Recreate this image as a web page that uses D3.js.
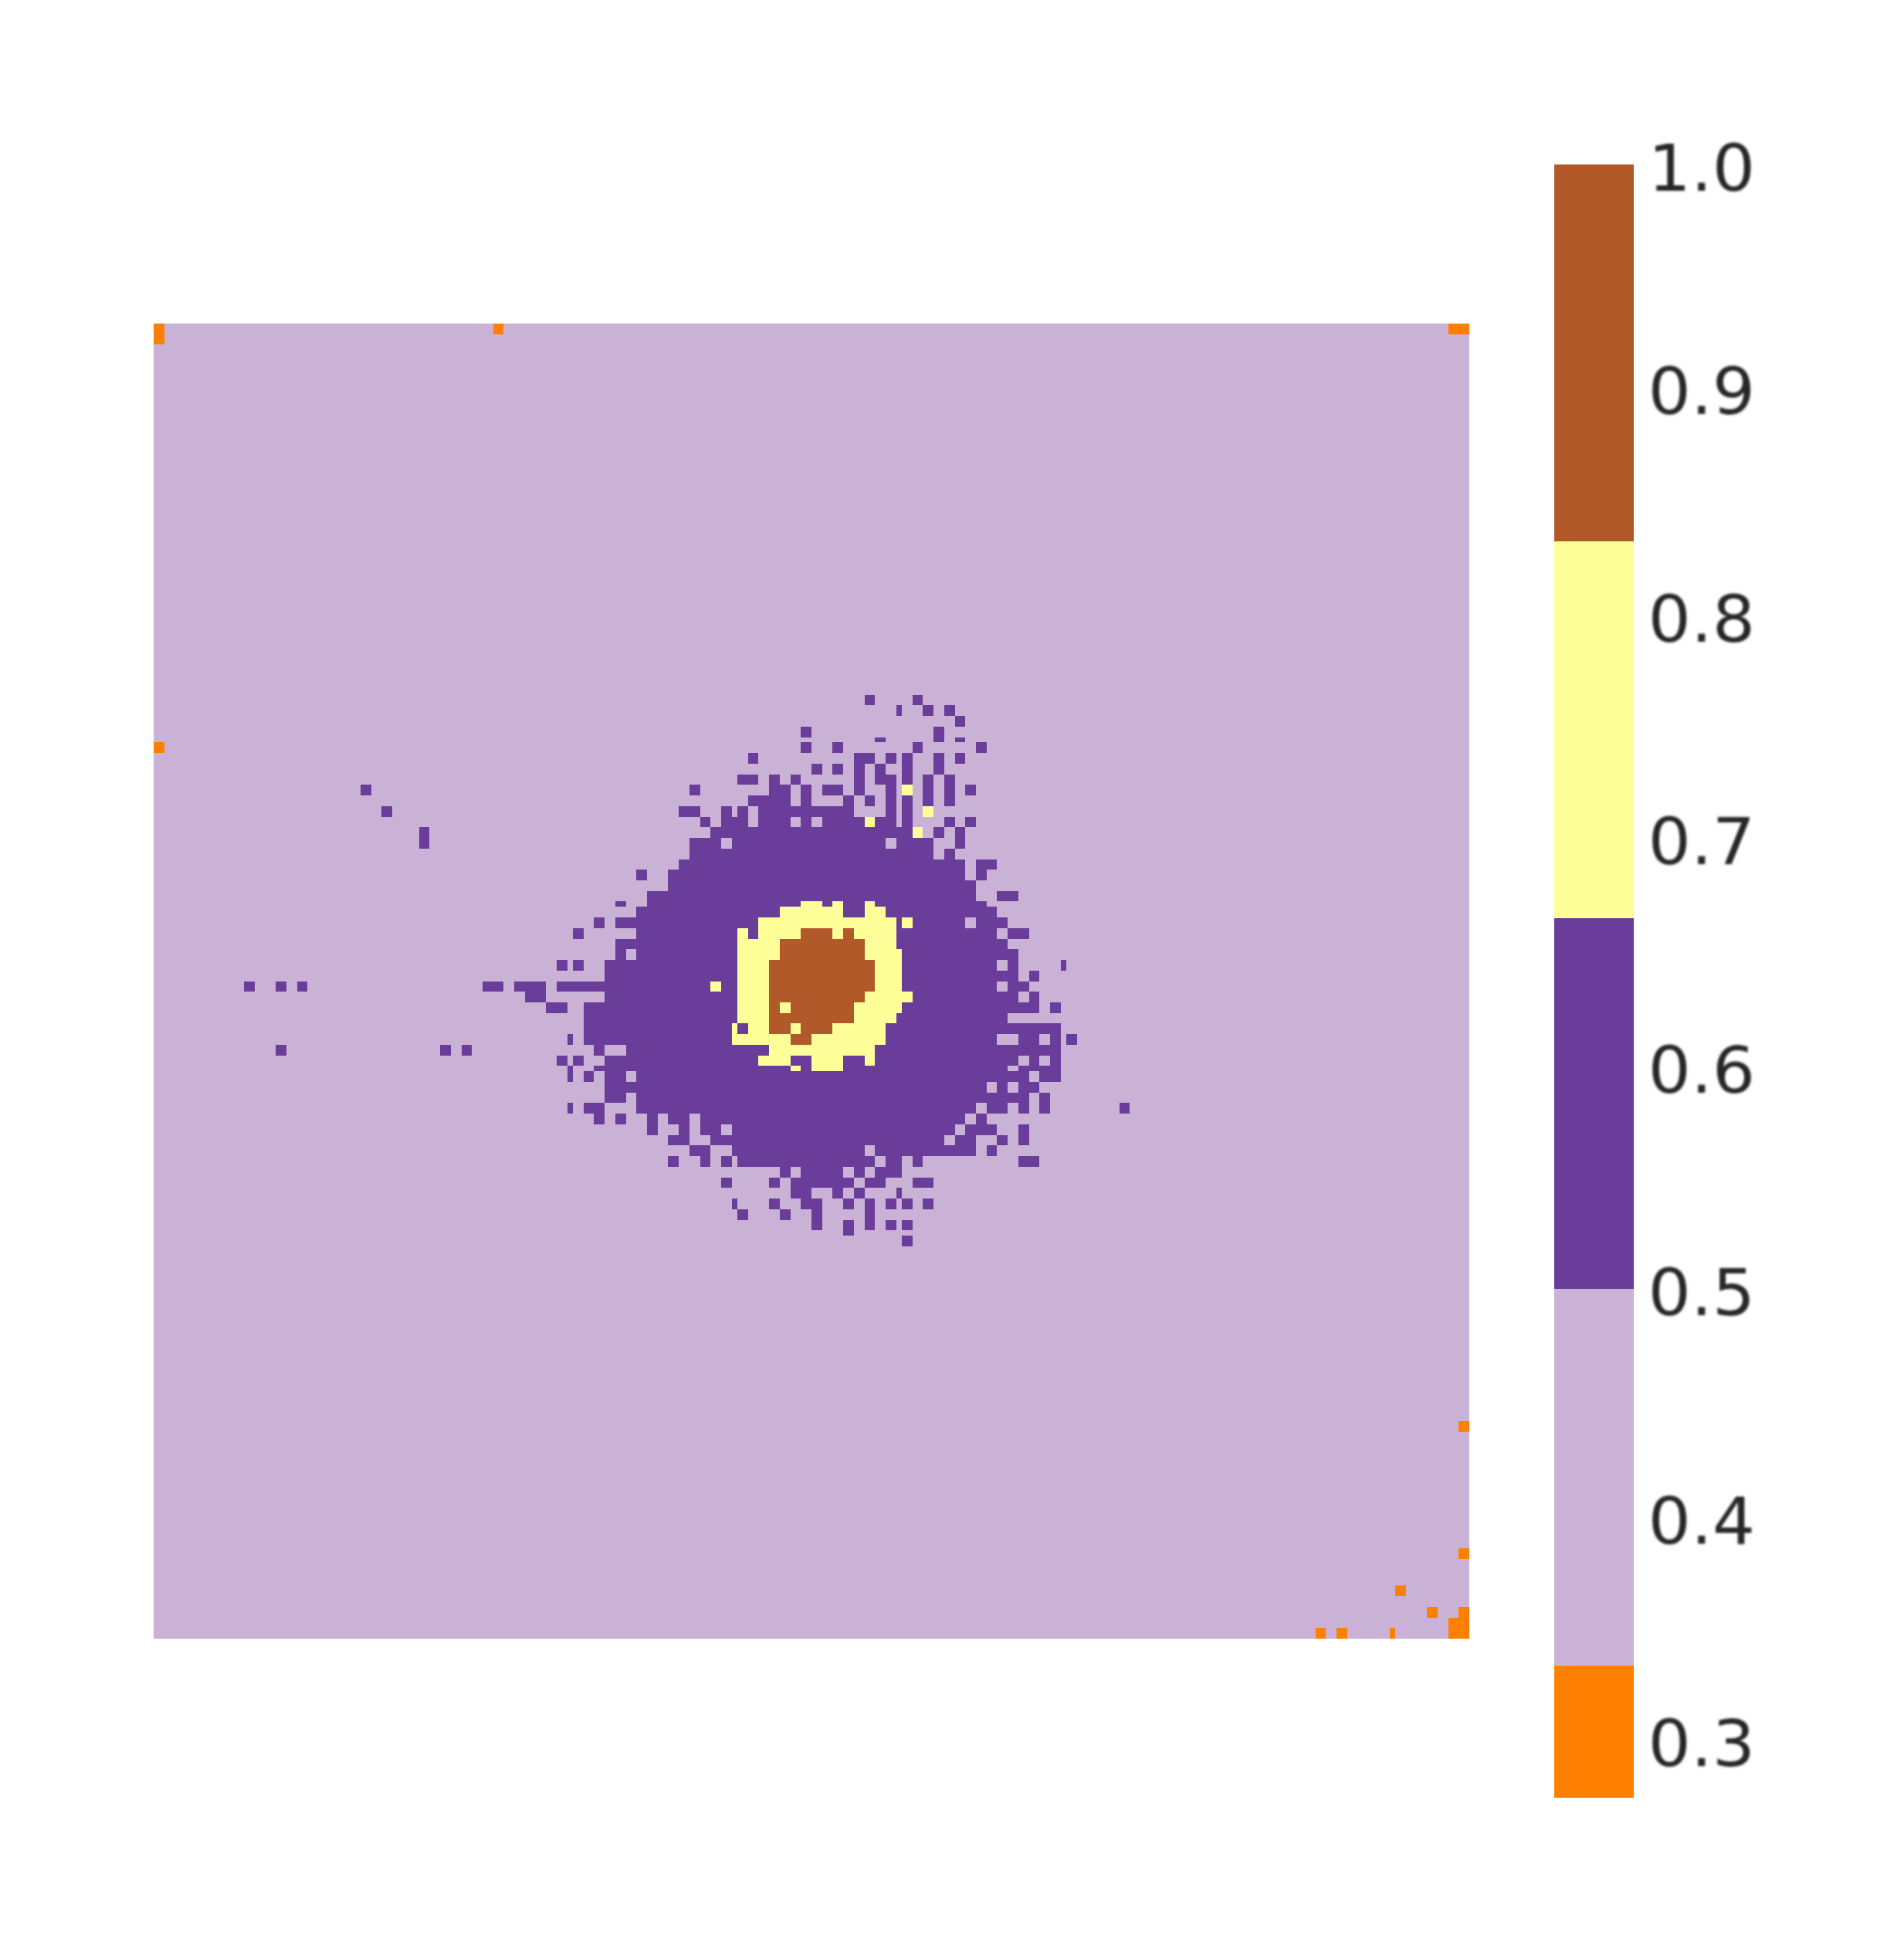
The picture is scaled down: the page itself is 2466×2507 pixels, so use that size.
<!DOCTYPE html>
<html><head><meta charset="utf-8">
<script src="https://cdnjs.cloudflare.com/ajax/libs/d3/7.8.5/d3.min.js"></script>
<style>html,body{margin:0;padding:0;background:#fff}svg{display:block}</style>
</head><body><svg id="c" width="2466" height="2507"></svg>
<script>
// Heatmap data: 128 x 128 cells. Default value is the pale level; rows list "row:columns".
const gridSize = 128;
const levelValues = {base: 0.42, dark: 0.58, yellow: 0.75, brown: 0.92, orange: 0.31};
const darkRows = [
"36:69,74","37:72,75,77","38:78","39:63,76","40:70,76,78","41:63,66,74,80",
"42:58,68-69,71,73,76,78","43:64,66,68,70,73,76","44:57-58,60,62,68,70-71,73,75,77",
"45:20,52,60-61,63,65-66,68,71,73,75,77,79","46:58-61,63,67,69,71,73,75,77",
"47:22,51-52,55,57,59-67,71,73,75","48:53,55-57,59-61,63,65-71,73,77,79",
"49:26,54-74,76,78","50:26,52-54,56-70,72-75,78","51:52-75,77","52:51-78,80-81",
"53:47,50-78,80","54:50-79","55:48-79,82-83","56:45,48-80","57:47-81",
"58:43,45-78,80-82","59:41,47-81,83-84","60:45-82","61:45,47-83",
"62:39,41,44-81,83,88","63:44-83,85","64:9,12,14,32-33,35-37,39-81,83-84",
"65:36-37,44-83,85","66:38-39,42-85,87","67:42-82","68:42-87",
"69:40,42-81,84-85,87,89","70:12,28,30,43,46-87","71:39,41,44-83,85,87",
"72:40,43-82,84-87","73:40,42,44-45,47-84,86-87","74:44-80,82,84-85",
"75:44-45,47-84,86","76:40,42-43,47-79,81-82,84,86,94","77:43,45,48,50-51,53-78,80",
"78:48,51,53-54,56-77,79-81,84","79:50-51,54-76,78-79,82,84",
"80:52-53,56-68,70-79,81","81:50,53,55,57-69,71-72,74,84-85","82:61,63-66,68,70-72",
"83:55,60,62-67,69-70,74-75","84:62-63,66,68,72","85:56,60,63-64,67,69,71,73,75",
"86:57,61,64,69","87:64,67,69,71,73","88:67","89:73"];
const yellowRows = [
"45:73","47:75","48:69","49:74","56:63-64,66,69","57:61-66,69-70",
"58:59-71,73","59:57,59-62,66,68-71","60:57-60,69-71","61:57-60,69-72",
"62:57-59,70-72","63:57-59,70-72","64:54,57-59,70-72","65:57-59,69-73",
"66:57-59,61,68-72","67:57-59,68-71","68:56,58-59,62,66-70","69:56-61,64-70",
"70:60-69","71:59-61,64-66,69","72:62,64-66"];
const brownRows = [
"59:63-65,67","60:61-68","61:61-68","62:60-69","63:60-69","64:60-69","65:60-68",
"66:60,62-67","67:60-67","68:60-61,63-65","69:62-63"];
const orangeRows = [
"0:0,33,126-127","1:0","41:0","107:127","119:127","123:121","125:124,127",
"126:126-127","127:113,115,120,126-127"];
const colorThresholds = [1/3, 0.5, 2/3, 5/6];
const colorLevels = ["#ff7f00","#cab2d6","#6a3d9a","#ffff99","#b15928"];
const barTicks = [1.0,0.9,0.8,0.7,0.6,0.5,0.4,0.3];
const barDomain = [0.2742, 1.0];
const barEdges = [0.2742, 0.3329, 0.5002, 0.6652, 0.8326, 1.0];

const matrix = d3.range(gridSize).map(() => new Array(gridSize).fill(levelValues.base));
function paint(rows, value){
  rows.forEach(s => {
    const [r, list] = s.split(":");
    list.split(",").forEach(part => {
      const [a, b] = part.split("-").map(Number);
      for (let c = a; c <= (b === undefined ? a : b); c++) matrix[+r][c] = value;
    });
  });
}
paint(darkRows, levelValues.dark);
paint(yellowRows, levelValues.yellow);
paint(brownRows, levelValues.brown);
paint(orangeRows, levelValues.orange);

const color = d3.scaleThreshold().domain(colorThresholds).range(colorLevels);
const svg = d3.select("#c");

// The source raster is 248 px across for 128 cells, so cell edges snap to that coarse pixel grid.
const snap = d3.scaleLinear().domain([0, gridSize]).range([0, 248]);
const xPix = d3.scaleLinear().domain([0, 248]).range([199, 1903]);
const yPix = d3.scaleLinear().domain([0, 248]).range([419, 2122]);
const X = i => Math.round(xPix(Math.round(snap(i))));
const Y = i => Math.round(yPix(Math.round(snap(i))));

const cells = [];
matrix.forEach((row, r) => row.forEach((v, c) => cells.push({r, c, v})));
svg.append("g").attr("shape-rendering","crispEdges").selectAll("rect").data(cells).join("rect")
  .attr("x", d => X(d.c)).attr("y", d => Y(d.r))
  .attr("width", d => X(d.c+1)-X(d.c)).attr("height", d => Y(d.r+1)-Y(d.r))
  .attr("fill", d => color(d.v));

// Colour bar
const barY = d3.scaleLinear().domain(barDomain).range([2328, 213]);
const barG = svg.append("g").attr("shape-rendering","crispEdges");
barG.selectAll("rect").data(d3.pairs(barEdges)).join("rect")
  .attr("x", 2013).attr("width", 103)
  .attr("y", d => barY(d[1])).attr("height", d => barY(d[0])-barY(d[1]))
  .attr("fill", d => color((d[0]+d[1])/2));

const defs = svg.append("defs");
defs.append("filter").attr("id","soft").append("feGaussianBlur").attr("stdDeviation",1.6);

const axis = d3.axisRight(barY).tickValues(barTicks).tickSize(0).tickFormat(d3.format(".1f"));
const axisG = svg.append("g").attr("transform","translate(2116,0)").call(axis);
axisG.select(".domain").remove();
// Tick labels sit on the same coarse pixel grid as the source raster.
const coarse = 6.87;
axisG.selectAll(".tick")
  .attr("transform", d => `translate(0,${213 + coarse*Math.round((barY(d)-213)/coarse + 0.01)})`);
axisG.selectAll("text")
  .attr("x", 0).attr("dy", null).attr("y", 0)
  .attr("transform", "translate(18.5,34) scale(1.05,1)")
  .attr("fill", "#262626")
  .attr("filter","url(#soft)")
  .style("font-family", "'DejaVu Sans'")
  .style("font-size", "83px");
</script></body></html>
